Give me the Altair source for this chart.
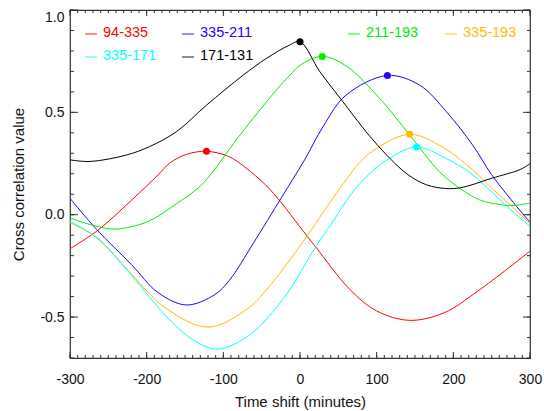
import altair as alt
import pandas as pd

# ---------------- data ----------------
SERIES_NAMES = ["94-335", "335-211", "211-193", "335-193", "335-171", "171-131"]
SERIES_COLORS = ["#ff0000", "#2200ff", "#00ee00", "#ffbb00", "#00ffff", "#000000"]

RED_T = [-300, -265, -220, -185, -170, -148, -122, -96, -85, -70, -45, -24, 0, 20, 65, 100, 143, 188, 232, 300]
RED_V = [-0.166, -0.08, 0.07, 0.195, 0.252, 0.295, 0.31, 0.289, 0.268, 0.227, 0.146, 0.057, -0.06, -0.155, -0.365, -0.47, -0.516, -0.479, -0.373, -0.178]

BLUE_T = [-300, -265, -220, -185, -148, -111, -92, -61, -24, 6, 30, 60, 114, 156, 191, 225, 250, 275, 300]
BLUE_V = [0.08, -0.073, -0.243, -0.381, -0.441, -0.39, -0.32, -0.14, 0.085, 0.268, 0.43, 0.584, 0.68, 0.633, 0.503, 0.341, 0.195, 0.075, -0.037]

GREEN_T = [-300, -265, -240, -198, -163, -133, -118, -74, -26, -13, 0, 29, 60, 104, 143, 182, 208, 234, 260, 280, 300]
GREEN_V = [-0.016, -0.057, -0.07, -0.033, 0.049, 0.13, 0.19, 0.41, 0.63, 0.682, 0.73, 0.773, 0.727, 0.568, 0.39, 0.21, 0.13, 0.073, 0.05, 0.045, 0.057]

ORANGE_T = [-300, -265, -220, -176, -120, -68, -40, 10, 28, 60, 78, 95, 143, 186, 225, 250, 275, 300]
ORANGE_V = [-0.04, -0.11, -0.29, -0.454, -0.549, -0.458, -0.35, -0.10, 0.0, 0.17, 0.255, 0.312, 0.393, 0.33, 0.219, 0.13, 0.045, -0.044]

CYAN_T = [-300, -265, -220, -176, -140, -107, -63, -29, -14, 20, 36, 78, 117, 152, 190, 220, 245, 270, 300]
CYAN_V = [-0.033, -0.114, -0.295, -0.49, -0.61, -0.657, -0.58, -0.445, -0.37, -0.16, -0.072, 0.152, 0.276, 0.331, 0.276, 0.21, 0.13, 0.04, -0.057]

BLACK_T = [-300, -274, -226, -196, -161, -122, -74, -44, -14, 0, 26, 56, 86, 117, 141, 165, 190, 210, 250, 288, 300]
BLACK_V = [0.268, 0.26, 0.292, 0.333, 0.406, 0.535, 0.682, 0.763, 0.828, 0.845, 0.698, 0.552, 0.406, 0.276, 0.195, 0.146, 0.128, 0.132, 0.178, 0.222, 0.25]

PEAK_T = [-122, 114, 29, 143, 152, 0]
PEAK_V = [0.31, 0.68, 0.773, 0.393, 0.331, 0.845]

X_TICK_LABELS = [-300, -200, -100, 0, 100, 200, 300]
Y_TICK_LABELS = [-0.5, 0.0, 0.5, 1.0]
X_MINOR = list(range(-300, 301, 10))
Y_MINOR = [round(-0.7 + 0.1 * i, 1) for i in range(18)]

# ---------------- layout ----------------
W, H = 460, 348
FONT = "Liberation Sans"
FRAME = "#333333"

series_data = [RED_T, BLUE_T, GREEN_T, ORANGE_T, CYAN_T, BLACK_T]
series_vals = [RED_V, BLUE_V, GREEN_V, ORANGE_V, CYAN_V, BLACK_V]
rows = []
for name, ts, vs in zip(SERIES_NAMES, series_data, series_vals):
    for t, v in zip(ts, vs):
        rows.append({"series": name, "t": t, "v": v})
df = pd.DataFrame(rows)
peaks = pd.DataFrame({"series": SERIES_NAMES, "t": PEAK_T, "v": PEAK_V})

x_scale = alt.Scale(domain=[-300, 300], nice=False, zero=False)
y_scale = alt.Scale(domain=[-0.7, 1.0], nice=False, zero=False)
c_scale = alt.Scale(domain=SERIES_NAMES, range=SERIES_COLORS)

fix_minus = "replace(datum.label, '\u2212', '-')"

x_axis = alt.Axis(values=X_TICK_LABELS, title="Time shift (minutes)", labelExpr=fix_minus,
                  labelPadding=14, titlePadding=8, labelFlush=False,
                  ticks=False, tickSize=0, domain=False, grid=False)
y_axis = alt.Axis(values=Y_TICK_LABELS, format=".1f", title="Cross correlation value",
                  labelExpr=fix_minus, labelPadding=6, titlePadding=13, labelFlush=True,
                  ticks=False, tickSize=0, domain=False, grid=False)

X = lambda f: alt.X(f, scale=x_scale, axis=x_axis, title="Time shift (minutes)")
Y = lambda f: alt.Y(f, scale=y_scale, axis=y_axis, title="Cross correlation value")

lines = alt.Chart(df).mark_line(interpolate="catmull-rom", strokeWidth=1, clip=True).encode(
    x=X("t:Q"),
    y=Y("v:Q"),
    color=alt.Color("series:N", scale=c_scale, legend=None),
    detail="series:N",
)

dots = alt.Chart(peaks).mark_circle(size=50, opacity=1).encode(
    x=X("t:Q"),
    y=Y("v:Q"),
    color=alt.Color("series:N", scale=c_scale, legend=None),
)


def tick_layer(values, side, length):
    d = pd.DataFrame({"val": values})
    ch = alt.Chart(d).mark_rule(color=FRAME, strokeWidth=1)
    if side == "bottom":
        return ch.encode(x=X("val:Q"), y=alt.value(H), y2=alt.value(H - length))
    if side == "top":
        return ch.encode(x=X("val:Q"), y=alt.value(0), y2=alt.value(length))
    if side == "left":
        return ch.encode(y=Y("val:Q"), x=alt.value(0), x2=alt.value(length))
    return ch.encode(y=Y("val:Q"), x=alt.value(W), x2=alt.value(W - length))


tick_layers = [
    tick_layer(X_MINOR, "bottom", 3), tick_layer(X_TICK_LABELS, "bottom", 6),
    tick_layer(X_MINOR, "top", 3), tick_layer(X_TICK_LABELS, "top", 6),
    tick_layer(Y_MINOR, "left", 4), tick_layer(Y_TICK_LABELS, "left", 8),
    tick_layer(Y_MINOR, "right", 3), tick_layer(Y_TICK_LABELS, "right", 7),
]

# manual legend (two rows, four column slots)
LEG_COL_X = [15, 112, 278, 375]
LEG_ROW_Y = [23, 46]
LEG_SLOTS = [(0, 0), (0, 1), (0, 2), (0, 3), (1, 0), (1, 1)]
one = pd.DataFrame({"k": [0]})
legend_layers = []
for name, color, (r, c) in zip(SERIES_NAMES, SERIES_COLORS, LEG_SLOTS):
    x0 = LEG_COL_X[c]
    y0 = LEG_ROW_Y[r]
    legend_layers.append(
        alt.Chart(one).mark_rule(color=color, strokeWidth=1.2, opacity=0.75).encode(
            x=alt.value(x0), x2=alt.value(x0 + 12), y=alt.value(y0 + 1)))
    legend_layers.append(
        alt.Chart(one).mark_text(align="left", baseline="middle", font=FONT, fontSize=14.5,
                                 color=color, text=name).encode(
            x=alt.value(x0 + 18), y=alt.value(y0)))

chart = alt.layer(lines, dots, *tick_layers, *legend_layers).properties(
    width=W, height=H,
    autosize=alt.AutoSizeParams(type="none"),
    padding={"left": 70, "top": 10, "right": 14, "bottom": 53},
    background="white",
).configure_view(stroke=FRAME, strokeWidth=1.2).configure_axis(
    labelFont=FONT, labelFontSize=14, labelColor="#111111",
    titleFont=FONT, titleFontSize=15, titleFontWeight="normal", titleColor="#111111",
)

chart.save("out.html", embed_options={"renderer": "svg", "actions": False})
